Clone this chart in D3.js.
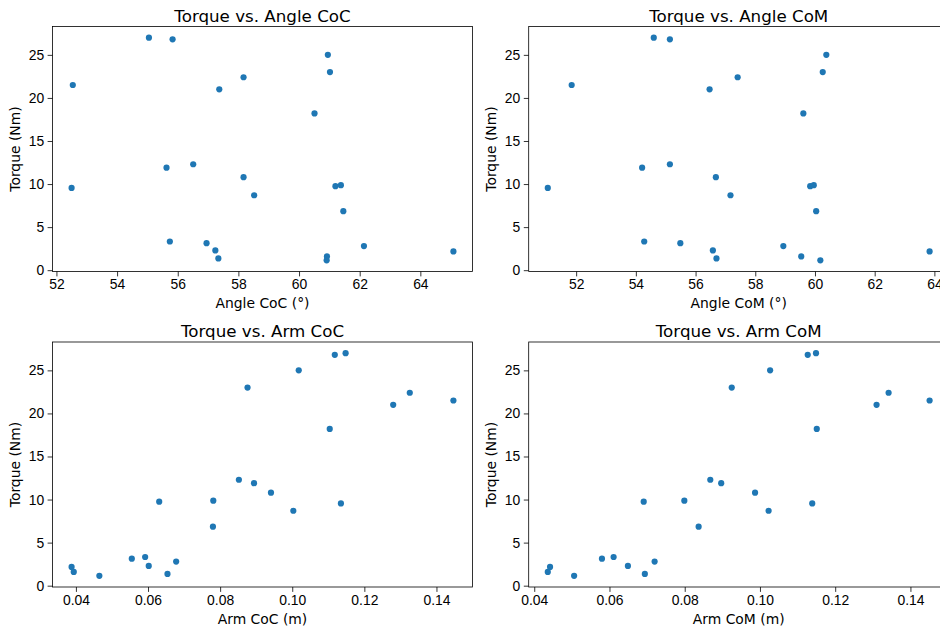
<!DOCTYPE html>
<html>
<head>
<meta charset="utf-8">
<script src="https://cdn.jsdelivr.net/npm/d3@7"></script>
<style>
  body { margin: 0; background: white; }
  svg { font-family: "DejaVu Sans", sans-serif; display: block; }
  .axis path, .axis line { stroke: #000; stroke-width: 0.8; }
  .axis text { font-size: 13.9px; fill: #000; }
</style>
</head>
<body>
<svg width="940" height="630"></svg>
<script>
// torque is shared by all four panels
var torque = [27.0, 26.8, 25.0, 23.0, 21.5, 22.4, 21.0, 18.2, 11.9, 12.3, 9.55, 10.8,
  8.7, 9.75, 9.87, 6.85, 3.33, 3.14, 2.29, 1.37, 1.6, 1.14, 2.8, 2.18]

var angleCoC = [55.05, 55.83, 60.95, 61.02, 52.54, 58.17, 57.37, 60.51, 55.63, 56.51, 52.50, 58.17,
  58.52, 61.20, 61.38, 61.46, 55.74, 56.95, 57.24, 57.34, 60.92, 60.91, 62.14, 65.09]

var angleCoM = [54.60, 55.14, 60.38, 60.26, 51.85, 57.41, 56.47, 59.61, 54.21, 55.14, 51.05, 56.68,
  57.17, 59.84, 59.96, 60.04, 54.28, 55.49, 56.58, 56.70, 59.54, 60.18, 58.94, 63.84]

var armCoC = [0.1148, 0.1118, 0.1018, 0.0876, 0.1447, 0.1326, 0.1280, 0.1104, 0.0894, 0.0852, 0.1135, 0.0941,
  0.1003, 0.0631, 0.0781, 0.0780, 0.0592, 0.0555, 0.0602, 0.0654, 0.0394, 0.0465, 0.0678, 0.0388]

var armCoM = [0.1149, 0.1127, 0.1027, 0.0925, 0.1451, 0.1342, 0.1310, 0.1151, 0.0897, 0.0868, 0.1139, 0.0987,
  0.1023, 0.0691, 0.0799, 0.0837, 0.0611, 0.0580, 0.0649, 0.0694, 0.0436, 0.0506, 0.0720, 0.0442]

var angleTicks = [52, 54, 56, 58, 60, 62, 64]
var armTicks = [0.04, 0.06, 0.08, 0.10, 0.12, 0.14]
var torqueTicks = [0, 5, 10, 15, 20, 25]

var panels = [
  { title: "Torque vs. Angle CoC", xlabel: "Angle CoC (°)", xs: angleCoC, ticks: angleTicks, fmt: d3.format("d"), left: 52.5, top: 26.5 },
  { title: "Torque vs. Angle CoM", xlabel: "Angle CoM (°)", xs: angleCoM, ticks: angleTicks, fmt: d3.format("d"), left: 528.7, top: 26.5 },
  { title: "Torque vs. Arm CoC", xlabel: "Arm CoC (m)", xs: armCoC, ticks: armTicks, fmt: d3.format(".2f"), left: 52.5, top: 342 },
  { title: "Torque vs. Arm CoM", xlabel: "Arm CoM (m)", xs: armCoM, ticks: armTicks, fmt: d3.format(".2f"), left: 528.7, top: 342 }
]

var
  svg = d3.select("svg"),
  width = 420,
  height = 245

// matplotlib style 5% margins around the data
var padded = function(values) {
  let [lo, hi] = d3.extent(values), m = (hi - lo) * 0.05
  return [lo - m, hi + m]
}

panels.forEach(p => {
  let g = svg.append("g").attr("transform", `translate(${p.left},${p.top})`)

  let
    x = d3.scaleLinear().domain(padded(p.xs)).range([0, width]),
    y = d3.scaleLinear().domain(padded(torque)).range([height, 0])

  g.selectAll("circle")
    .data(torque)
    .join("circle")
    .attr("cx", (d, i) => x(p.xs[i]))
    .attr("cy", d => y(d))
    .attr("r", 3.1)
    .style("fill", "#1f77b4")

  g.append("rect")
    .attr("width", width).attr("height", height)
    .attr("fill", "none").attr("stroke", "#000").attr("stroke-width", 0.8)

  let xAxis = g.append("g").attr("class", "axis")
    .attr("transform", `translate(0,${height})`)
    .call(d3.axisBottom(x).tickValues(p.ticks).tickFormat(p.fmt).tickSize(4.9).tickSizeOuter(0).tickPadding(3))
  xAxis.select(".domain").remove()

  let yAxis = g.append("g").attr("class", "axis")
    .call(d3.axisLeft(y).tickValues(torqueTicks).tickSize(4.9).tickSizeOuter(0).tickPadding(3.5))
  yAxis.select(".domain").remove()

  g.append("text")
    .attr("x", width / 2).attr("y", -5)
    .style("text-anchor", "middle")
    .style("font-size", "16.7px")
    .text(p.title)

  g.append("text")
    .attr("x", width / 2).attr("y", height + 36.5)
    .style("text-anchor", "middle")
    .style("font-size", "13.9px")
    .text(p.xlabel)

  g.append("text")
    .attr("transform", `translate(-32.5,${height / 2}) rotate(270)`)
    .style("text-anchor", "middle")
    .style("font-size", "13.9px")
    .text("Torque (Nm)")
})
</script>
</body>
</html>
